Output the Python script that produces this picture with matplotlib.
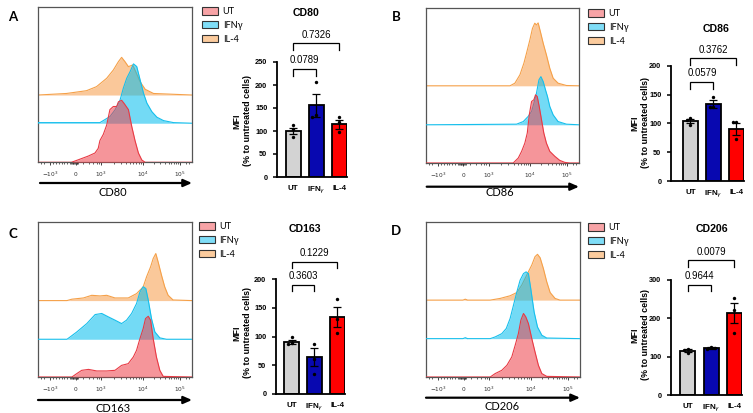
import matplotlib
matplotlib.use('Agg')
import matplotlib.pyplot as plt
from matplotlib.patches import Patch, FancyArrowPatch
import numpy as np

# ---------------- data ----------------
groups = ['UT', 'IFNγ', 'IL-4']
bar_tick_labels = ['UT', r'IFN$_{\gamma}$', 'IL-4']
markers = ['CD80', 'CD86', 'CD163', 'CD206']
panel_letters = ['A', 'B', 'C', 'D']
hist_tick_labels = [r'$-10^3$', r'$0$', r'$10^3$', r'$10^4$', r'$10^5$']

# bar charts: mean, SEM, individual points (MFI, % to untreated cells)
cd80_mean = [100, 156, 115]
cd80_sem = [7, 25, 10]
cd80_pts = [[113, 104, 88], [207, 135, 130], [130, 120, 98]]
cd80_p = ['0.0789', '0.7326']

cd86_mean = [104, 133, 90]
cd86_sem = [3.5, 7, 10]
cd86_pts = [[110, 98, 106], [146, 128, 129], [102, 102, 72]]
cd86_p = ['0.0579', '0.3762']

cd163_mean = [91, 65, 134]
cd163_sem = [4, 16, 18]
cd163_pts = [[100, 89, 88], [87, 61, 35], [165, 130, 106]]
cd163_p = ['0.3603', '0.1229']

cd206_mean = [116, 122, 213]
cd206_sem = [4, 2, 26]
cd206_pts = [[120, 110, 118], [124, 120, 122], [254, 222, 163]]
cd206_p = ['0.9644', '0.0079']

# histograms: position along the (biexponential) axis as fraction of width, height as fraction of box
cd80_ut_u = [0.217, 0.272, 0.326, 0.370, 0.391, 0.402, 0.424, 0.446, 0.467, 0.489, 0.511, 0.522, 0.543, 0.559, 0.587, 0.609, 0.630, 0.652, 0.674, 0.696]
cd80_ut_h = [0, 0.02, 0.04, 0.06, 0.09, 0.14, 0.18, 0.24, 0.34, 0.36, 0.36, 0.39, 0.40, 0.38, 0.34, 0.23, 0.14, 0.06, 0.015, 0]
cd80_ifn_u = [0.0, 0.402, 0.467, 0.5, 0.533, 0.554, 0.576, 0.598, 0.620, 0.641, 0.663, 0.685, 0.707, 0.739, 0.772, 0.815, 0.880]
cd80_ifn_h = [0.004, 0.004, 0.043, 0.086, 0.15, 0.226, 0.29, 0.333, 0.383, 0.366, 0.28, 0.194, 0.13, 0.075, 0.039, 0.017, 0.004]
cd80_il4_u = [0.185, 0.315, 0.380, 0.446, 0.489, 0.522, 0.543, 0.565, 0.587, 0.615, 0.630, 0.663, 0.696, 0.750]
cd80_il4_h = [0.01, 0.028, 0.054, 0.108, 0.161, 0.215, 0.243, 0.215, 0.183, 0.194, 0.161, 0.086, 0.037, 0.01]

cd86_ut_u = [0.570, 0.603, 0.625, 0.646, 0.662, 0.675, 0.690, 0.705, 0.716, 0.727, 0.740, 0.755, 0.770, 0.787, 0.809, 0.842, 0.874, 0.907, 0.939]
cd86_ut_h = [0, 0.032, 0.075, 0.128, 0.193, 0.31, 0.396, 0.407, 0.439, 0.428, 0.364, 0.278, 0.193, 0.128, 0.075, 0.043, 0.017, 0.004, 0]
cd86_ifn_u = [0.592, 0.636, 0.668, 0.690, 0.705, 0.722, 0.738, 0.751, 0.766, 0.781, 0.794, 0.809, 0.831, 0.863, 0.918]
cd86_ifn_h = [0.004, 0.021, 0.054, 0.086, 0.139, 0.203, 0.289, 0.31, 0.278, 0.225, 0.182, 0.118, 0.064, 0.021, 0.004]
cd86_il4_u = [0.549, 0.581, 0.614, 0.640, 0.657, 0.679, 0.696, 0.711, 0.722, 0.733, 0.748, 0.766, 0.787, 0.809, 0.831, 0.863, 0.918]
cd86_il4_h = [0, 0.017, 0.071, 0.146, 0.21, 0.296, 0.37, 0.403, 0.392, 0.405, 0.347, 0.274, 0.199, 0.113, 0.049, 0.017, 0.002]

cd163_ut_u = [0.220, 0.252, 0.284, 0.328, 0.381, 0.446, 0.5, 0.543, 0.586, 0.619, 0.640, 0.662, 0.683, 0.698, 0.716, 0.731, 0.748, 0.769, 0.791, 0.813]
cd163_ut_h = [0, 0.022, 0.043, 0.049, 0.039, 0.039, 0.043, 0.075, 0.086, 0.129, 0.172, 0.247, 0.312, 0.376, 0.391, 0.366, 0.247, 0.129, 0.043, 0.004]
cd163_ifn_u = [0.188, 0.209, 0.252, 0.317, 0.371, 0.414, 0.457, 0.5, 0.543, 0.575, 0.608, 0.640, 0.662, 0.683, 0.700, 0.716, 0.737, 0.759, 0.791, 0.834]
cd163_ifn_h = [0, 0.015, 0.047, 0.101, 0.159, 0.166, 0.144, 0.123, 0.101, 0.123, 0.166, 0.23, 0.305, 0.338, 0.327, 0.252, 0.133, 0.047, 0.009, 0]
cd163_il4_u = [0.188, 0.220, 0.295, 0.349, 0.403, 0.446, 0.5, 0.586, 0.640, 0.683, 0.705, 0.731, 0.748, 0.765, 0.780, 0.802, 0.823, 0.845, 0.877]
cd163_il4_h = [0, 0.009, 0.017, 0.034, 0.03, 0.034, 0.017, 0.017, 0.045, 0.088, 0.153, 0.217, 0.271, 0.303, 0.249, 0.163, 0.088, 0.034, 0.004]

cd206_ut_u = [0.417, 0.449, 0.492, 0.525, 0.557, 0.579, 0.600, 0.616, 0.633, 0.648, 0.665, 0.687, 0.708, 0.730, 0.752, 0.784]
cd206_ut_h = [0, 0.022, 0.043, 0.075, 0.129, 0.204, 0.28, 0.366, 0.409, 0.387, 0.344, 0.247, 0.161, 0.075, 0.022, 0.004]
cd206_ifn_u = [0.240, 0.255, 0.270, 0.417, 0.449, 0.492, 0.521, 0.546, 0.568, 0.590, 0.611, 0.633, 0.650, 0.665, 0.680, 0.702, 0.724, 0.752, 0.784]
cd206_ifn_h = [0, 0.006, 0, 0, 0.011, 0.032, 0.065, 0.129, 0.215, 0.301, 0.376, 0.419, 0.43, 0.419, 0.323, 0.172, 0.075, 0.022, 0.004]
cd206_il4_u = [0.240, 0.255, 0.270, 0.417, 0.482, 0.546, 0.590, 0.622, 0.654, 0.687, 0.708, 0.724, 0.741, 0.762, 0.784, 0.806, 0.838, 0.870]
cd206_il4_h = [0, 0.006, 0, 0, 0.011, 0.028, 0.049, 0.097, 0.161, 0.226, 0.28, 0.295, 0.273, 0.204, 0.118, 0.049, 0.011, 0]

hist_tick_pos = [0.08, 0.245, 0.41, 0.68, 0.92]

# ---------------- assemble ----------------
bars = [(cd80_mean, cd80_sem, cd80_pts, cd80_p),
        (cd86_mean, cd86_sem, cd86_pts, cd86_p),
        (cd163_mean, cd163_sem, cd163_pts, cd163_p),
        (cd206_mean, cd206_sem, cd206_pts, cd206_p)]
hists = [[(cd80_ut_u, cd80_ut_h), (cd80_ifn_u, cd80_ifn_h), (cd80_il4_u, cd80_il4_h)],
         [(cd86_ut_u, cd86_ut_h), (cd86_ifn_u, cd86_ifn_h), (cd86_il4_u, cd86_il4_h)],
         [(cd163_ut_u, cd163_ut_h), (cd163_ifn_u, cd163_ifn_h), (cd163_il4_u, cd163_il4_h)],
         [(cd206_ut_u, cd206_ut_h), (cd206_ifn_u, cd206_ifn_h), (cd206_il4_u, cd206_il4_h)]]

W, H = 753, 413
fig = plt.figure(figsize=(W / 100, H / 100), dpi=100)

def fx(px):
    return px / W

def fy(py):
    return 1 - py / H

def box(x0, y0, x1, y1):
    return [x0 / W, 1 - y1 / H, (x1 - x0) / W, (y1 - y0) / H]

HIST_FILL = ['#EE3F48', '#00BCEE', '#F79B48']
HIST_LINE = ['#E83A44', '#16BFEC', '#F5A048']
LEG_COL = ['#F7A3A6', '#7FDDF7', '#FBCB9D']
BAR_COL = ['#D3D3D3', '#0808B0', '#FF0000']

ARIAL = 'Liberation Sans'
CAL = ['Lato', 'DejaVu Sans']

layouts = [
    dict(hist=(38, 7.3, 192, 162.3), bar=(276.7, 62, 347, 177), xl=(-0.72, 2.33), yl=(0, 250),
         yt=[0, 50, 100, 150, 200, 250], offs=[0, 0.252, 0.434], leg=(202, 7.0), letter=(13, 17),
         arrow=(40, 192, 183), label=(113, 192), title=(306, 13), ylab=(237, 248, 121),
         br=[(219.6, 234.8, 254), (276, 291, 308.7)]),
    dict(hist=(426, 7.7, 579, 163), bar=(670.7, 65.7, 744, 181), xl=(-0.86, 2.33), yl=(0, 200),
         yt=[0, 50, 100, 150, 200], offs=[0, 0.246, 0.497], leg=(588, 9.0), letter=(396, 17),
         arrow=(426.7, 579, 186.7), label=(500, 193), title=(716, 29), ylab=(635, 645, 123),
         br=[(159.6, 171.7, 187), (201, 213, 227)]),
    dict(hist=(38, 221.7, 192, 377), bar=(275.7, 279.3, 345, 394), xl=(-0.69, 2.33), yl=(0, 200),
         yt=[0, 50, 100, 150, 200], offs=[0, 0.243, 0.492], leg=(199, 222.0), letter=(13, 234),
         arrow=(38, 192, 400), label=(113, 408), title=(305, 229), ylab=(237, 248, 333),
         br=[(179.6, 190, 205.7), (220, 230.7, 245)]),
    dict(hist=(426, 221.7, 580, 377), bar=(670.7, 280, 742, 395), xl=(-0.74, 2.33), yl=(0, 300),
         yt=[0, 100, 200, 300], offs=[0, 0.247, 0.495], leg=(588, 223.0), letter=(396, 231),
         arrow=(426, 580, 397.7), label=(502, 406), title=(712, 229), ylab=(635, 645, 335),
         br=[(271, 287, 311), (335, 352, 373)]),
]

# minor tick positions for the biexponential axis (decoration)
u3, u4, u5 = hist_tick_pos[2], hist_tick_pos[3], hist_tick_pos[4]
minor = [u3 + (u4 - u3) * np.log10(k) for k in range(2, 10)] + \
        [u4 + (u5 - u4) * np.log10(k) for k in range(2, 10)] + \
        list(np.linspace(hist_tick_pos[0], hist_tick_pos[1], 10)[1:-1]) + \
        [0.215, 0.222, 0.228, 0.234, 0.24, 0.25, 0.256, 0.262, 0.29, 0.33, 0.36, 0.38, 0.395] + \
        [0.02, 0.04, 0.96, 0.98]

for k, L in enumerate(layouts):
    # ---------- histogram ----------
    ax = fig.add_axes(box(*L['hist']))
    ax.set_xlim(0, 1)
    ax.set_ylim(0, 1)
    for i in (2, 1, 0):
        uu, hh = hists[k][i]
        u = np.r_[0, uu, 1]
        h = np.r_[0, hh, 0]
        base = L['offs'][i]
        ax.fill_between(u, base, base + h, color=HIST_FILL[i], alpha=0.55, lw=0, zorder=2 + (2 - i))
        ax.plot(u, base + h, color=HIST_LINE[i], lw=0.8, zorder=2.5 + (2 - i))
    for s in ax.spines.values():
        s.set_color('#555555')
        s.set_linewidth(0.9)
    ax.set_yticks([])
    ax.set_xticks(hist_tick_pos)
    ax.set_xticklabels(hist_tick_labels, fontsize=4.2, color='#333333')
    ax.set_xticks(minor, minor=True)
    ax.tick_params(axis='x', which='major', length=2.5, width=0.6, pad=3, color='#222222')
    ax.tick_params(axis='x', which='minor', length=1.6, width=0.5, color='#222222')

    # legend
    handles = [Patch(facecolor=LEG_COL[i], edgecolor='#333333', linewidth=0.8) for i in range(3)]
    fig.legend(handles, groups, loc='upper left', bbox_to_anchor=(fx(L['leg'][0]), fy(L['leg'][1])),
               frameon=False, borderpad=0, borderaxespad=0, handlelength=1.75, handleheight=0.9,
               handletextpad=0.5, labelspacing=0.52, prop={'family': CAL, 'size': 6.6})

    # panel letter
    fig.text(fx(L['letter'][0]), fy(L['letter'][1]), panel_letters[k], fontsize=9.5,
             fontweight='bold', family=CAL, ha='center', va='center')

    # axis arrow and label
    x0, x1, ya = L['arrow']
    fig.add_artist(FancyArrowPatch((fx(x0), fy(ya)), (fx(x1), fy(ya)), transform=fig.transFigure,
                                   arrowstyle='-|>,head_length=0.5,head_width=0.22', mutation_scale=10,
                                   lw=1.6, color='black', shrinkA=0, shrinkB=0))
    fig.text(fx(L['label'][0]), fy(L['label'][1]), markers[k], fontsize=8, family=CAL,
             ha='center', va='center')

    # ---------- bar chart ----------
    mean, sem, pts, pv = bars[k]
    bx = fig.add_axes(box(*L['bar']))
    x = np.arange(3)
    bx.bar(x, mean, width=0.65, color=BAR_COL, edgecolor='black', linewidth=1.3, zorder=2)
    bx.errorbar(x, mean, yerr=sem, fmt='none', ecolor='black', elinewidth=0.9, capsize=2.6,
                capthick=0.9, zorder=3)
    # simple dodge for close points
    ppx = (L['bar'][3] - L['bar'][1]) / (L['yl'][1] - L['yl'][0])
    for g in range(3):
        placed = []
        for v in pts[g]:
            for off in (0, -0.17, 0.17, -0.34, 0.34):
                if all(abs(v - pv_) * ppx > 3.6 or abs(off - po) > 0.15 for pv_, po in placed):
                    break
            placed.append((v, off))
        bx.scatter([g + o for _, o in placed], [v for v, _ in placed], s=6, color='black',
                   zorder=4, linewidths=0)
    bx.set_xlim(*L['xl'])
    bx.set_ylim(*L['yl'])
    bx.set_yticks(L['yt'])
    bx.set_yticklabels([str(t) for t in L['yt']], fontsize=5.3, fontweight='bold', family=ARIAL)
    bx.set_xticks(x)
    bx.set_xticklabels(bar_tick_labels, fontsize=5.8, fontweight='bold', family=ARIAL)
    bx.tick_params(axis='x', length=0, pad=5.6)
    bx.tick_params(axis='y', length=2.6, width=1.1, pad=4.2, direction='out')
    for s in ('top', 'right'):
        bx.spines[s].set_visible(False)
    for s in ('left', 'bottom'):
        bx.spines[s].set_linewidth(1.3)
    # significance brackets
    for (ylo, yhi, ytxt), (g0, g1), p in zip(L['br'], [(0, 1), (0, 2)], pv):
        bx.plot([g0, g0, g1, g1], [ylo, yhi, yhi, ylo], color='black', lw=0.9, clip_on=False,
                solid_joinstyle='miter')
        bx.text((g0 + g1) / 2, ytxt, p, ha='center', va='center', fontsize=6.9, family=ARIAL,
                clip_on=False)
    # title and y label
    fig.text(fx(L['title'][0]), fy(L['title'][1]), markers[k], fontsize=7.6, fontweight='bold',
             family=ARIAL, ha='center', va='center')
    fig.text(fx(L['ylab'][0]), fy(L['ylab'][2]), 'MFI', rotation=90, fontsize=6.4,
             fontweight='bold', family=ARIAL, ha='center', va='center')
    fig.text(fx(L['ylab'][1]), fy(L['ylab'][2]), '(% to untreated cells)', rotation=90,
             fontsize=6.4, fontweight='bold', family=ARIAL, ha='center', va='center')

fig.savefig('out.png', dpi=100)
